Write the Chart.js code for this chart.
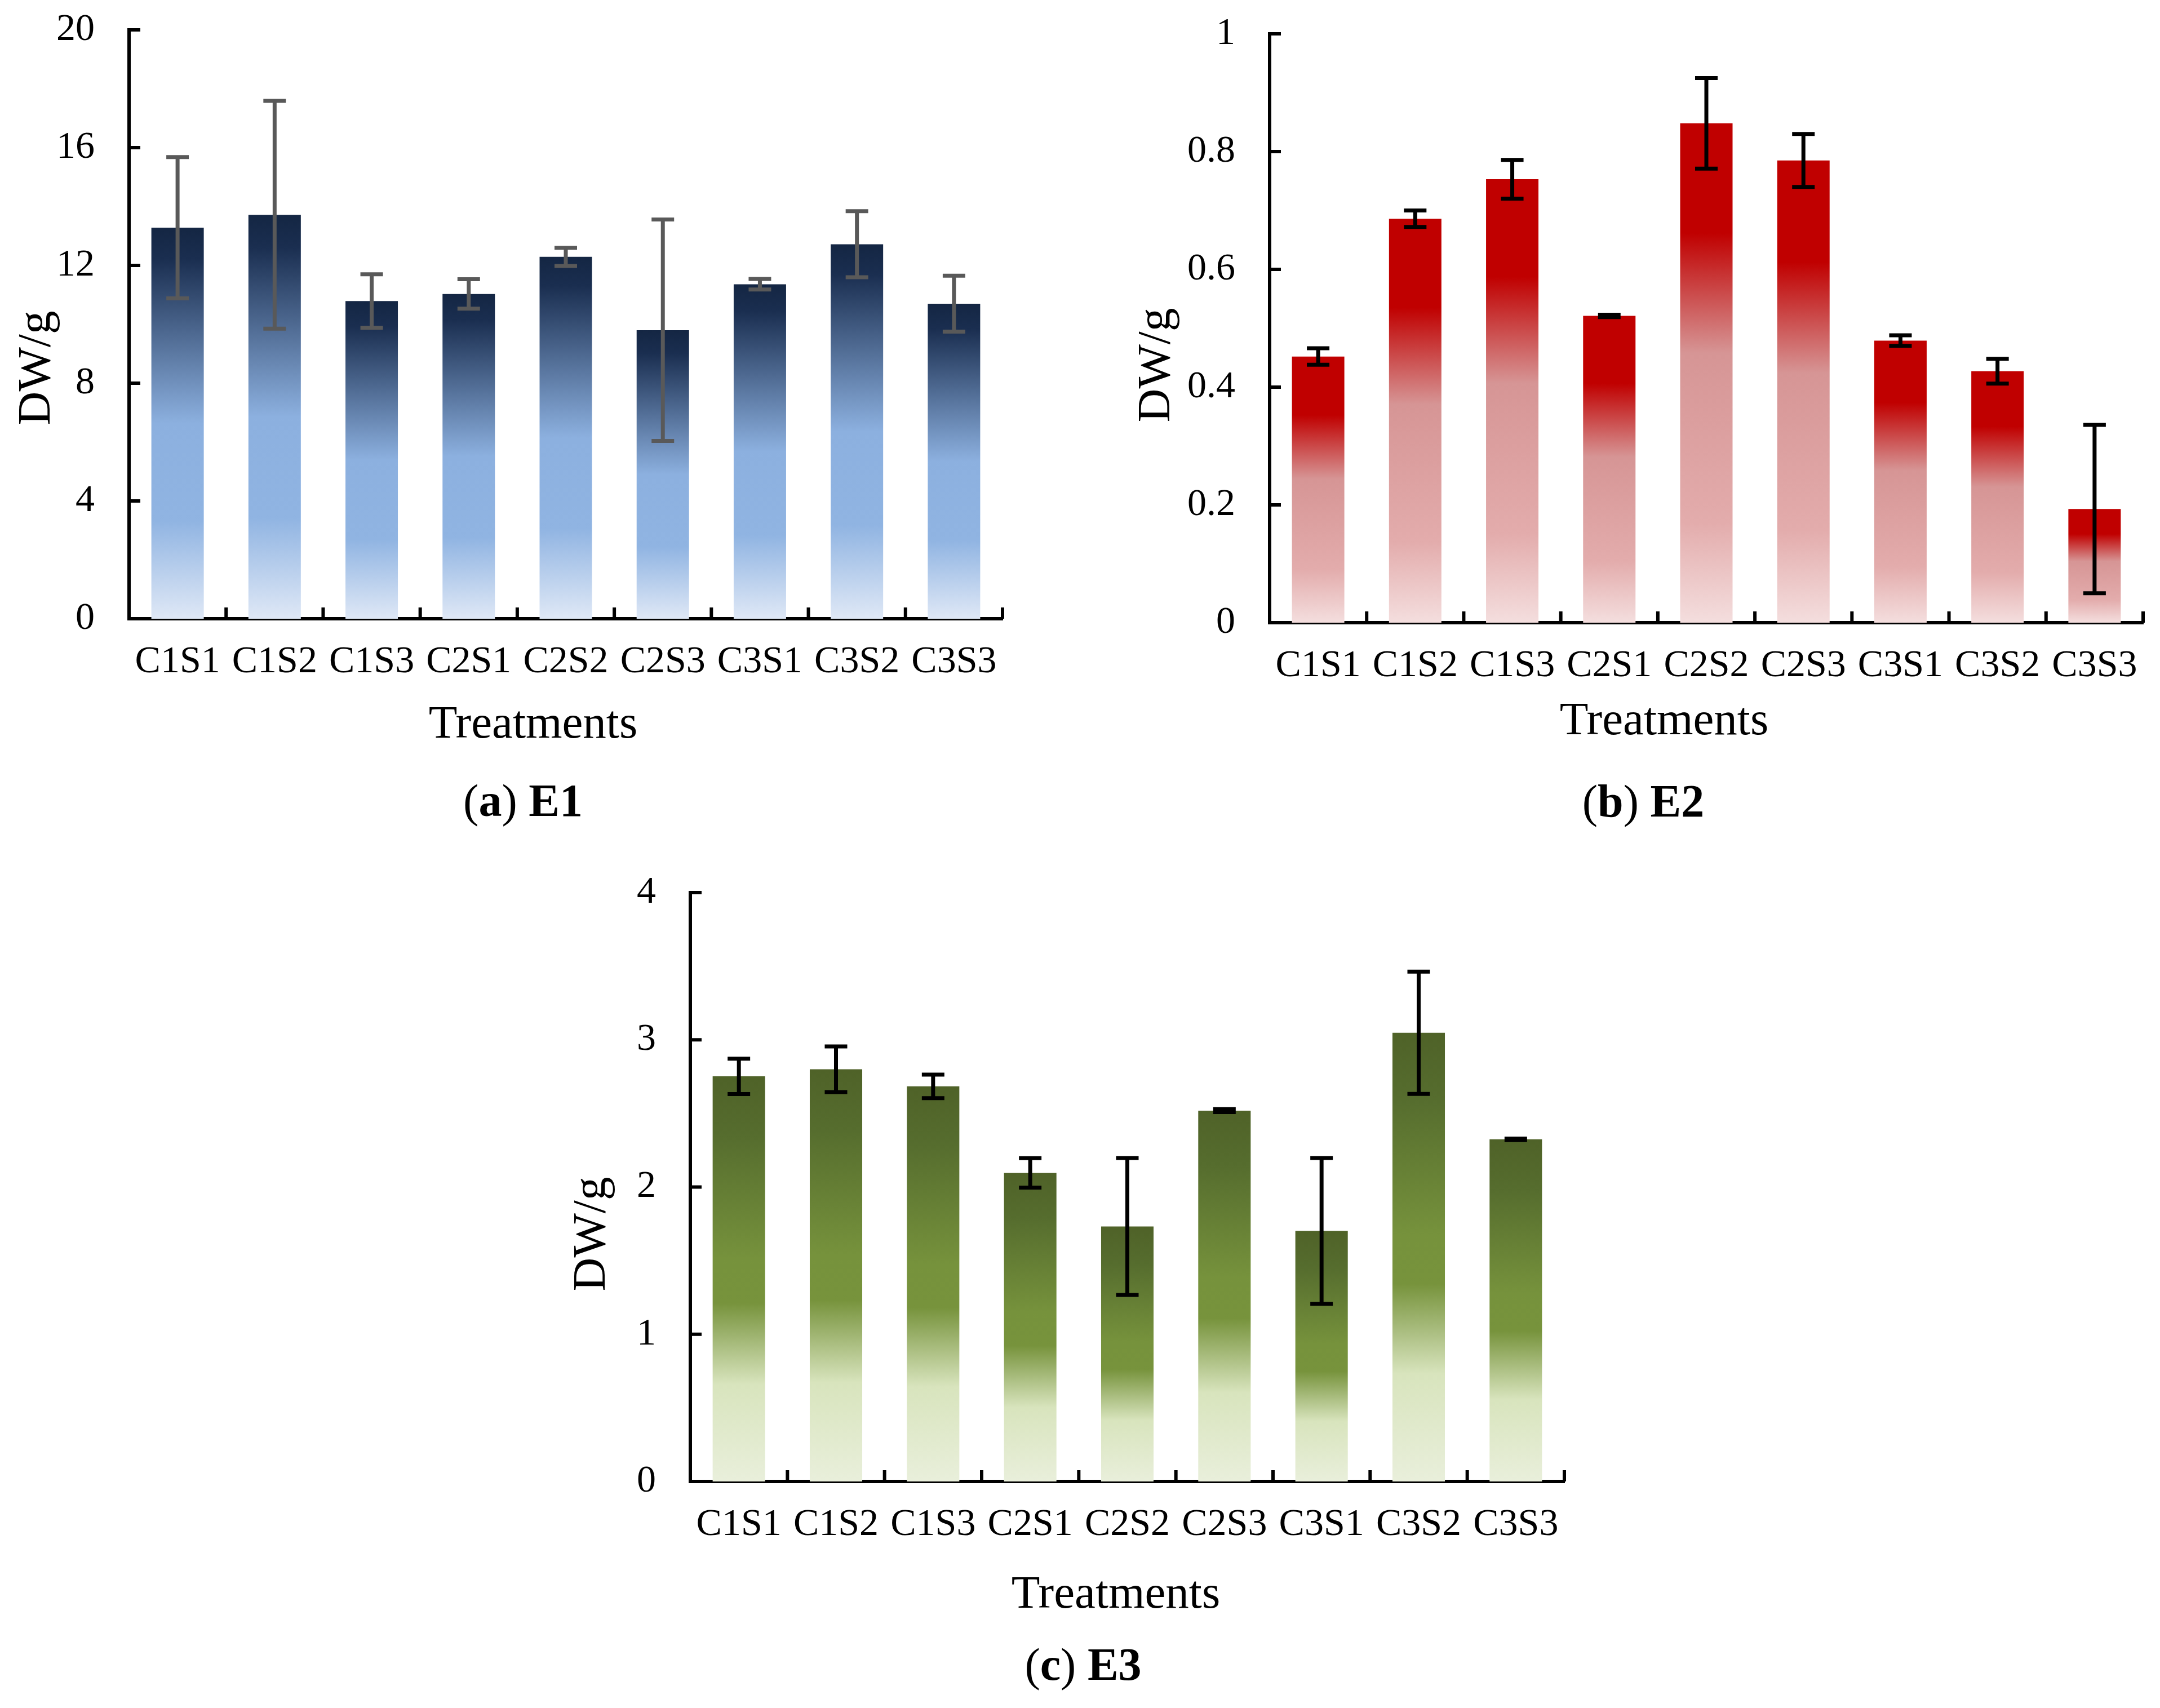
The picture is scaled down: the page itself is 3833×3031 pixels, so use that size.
<!DOCTYPE html>
<html>
<head>
<meta charset="utf-8">
<title>DW/g by treatment, E1 to E3</title>
<script src="https://cdn.jsdelivr.net/npm/chart.js@4.4.1/dist/chart.umd.min.js"></script>
<style>
  html, body { margin: 0; padding: 0; background: #fff; }
  #page { position: relative; width: 3833px; height: 3031px; overflow: hidden; }
  #page canvas { position: absolute; }
  #chart_e1 { left: 0; top: 0; width: 1900px; height: 1500px; }
  #chart_e2 { left: 1900px; top: 0; width: 1933px; height: 1500px; }
  #chart_e3 { left: 950px; top: 1500px; width: 1900px; height: 1531px; }
</style>
</head>
<body>
<div id="page">
  <canvas id="chart_e1" width="1900" height="1500"></canvas>
  <canvas id="chart_e2" width="1933" height="1500"></canvas>
  <canvas id="chart_e3" width="1900" height="1531"></canvas>
</div>
<script>
// data
const treatments = ["C1S1", "C1S2", "C1S3", "C2S1", "C2S2", "C2S3", "C3S1", "C3S2", "C3S3"];

const e1Values = [13.28, 13.72, 10.79, 11.03, 12.29, 9.8, 11.36, 12.72, 10.7];
const e1Errors = [2.4, 3.87, 0.91, 0.5, 0.31, 3.76, 0.18, 1.12, 0.95];
const e1Ticks = ["0", "4", "8", "12", "16", "20"];

const e2Values = [0.452, 0.686, 0.753, 0.521, 0.848, 0.785, 0.479, 0.427, 0.193];
const e2Errors = [0.014, 0.014, 0.033, 0.002, 0.077, 0.045, 0.009, 0.021, 0.143];
const e2Ticks = ["0", "0.2", "0.4", "0.6", "0.8", "1"];

const e3Values = [2.752, 2.8, 2.684, 2.096, 1.732, 2.519, 1.702, 3.048, 2.324];
const e3Errors = [0.12, 0.155, 0.08, 0.1, 0.465, 0.01, 0.495, 0.415, 0.005];
const e3Ticks = ["0", "1", "2", "3", "4"];

const yTitle = "DW/g";
const xTitle = "Treatments";

const Y_AXIS_W = 200;
const X_AXIS_H = 150;
const FONT = "'Liberation Serif', 'Times New Roman', serif";

// gradient along each bar, from its top (0) to the base (1)
function barGradient(stops) {
  return function (context) {
    const chart = context.chart;
    if (!chart.chartArea || context.type !== "data") {
      return stops[0][1];
    }
    const y = chart.scales.y;
    const top = y.getPixelForValue(context.raw);
    const base = y.getPixelForValue(0);
    if (!isFinite(top) || base - top < 1) {
      return stops[0][1];
    }
    const g = chart.ctx.createLinearGradient(0, top, 0, base);
    stops.forEach(function (s) {
      g.addColorStop(s[0], s[1]);
    });
    return g;
  };
}

const errorBars = {
  id: "errorBars",
  afterDatasetsDraw(chart, args, opts) {
    const meta = chart.getDatasetMeta(0);
    const y = chart.scales.y;
    const values = chart.data.datasets[0].data;
    const ctx = chart.ctx;
    ctx.save();
    ctx.strokeStyle = opts.color;
    ctx.lineWidth = opts.width;
    opts.errors.forEach(function (err, i) {
      const bx = meta.data[i].x;
      const hi = y.getPixelForValue(values[i] + err);
      const lo = y.getPixelForValue(values[i] - err);
      ctx.beginPath();
      ctx.moveTo(bx, hi);
      ctx.lineTo(bx, lo);
      ctx.moveTo(bx - opts.cap, hi);
      ctx.lineTo(bx + opts.cap, hi);
      ctx.moveTo(bx - opts.cap, lo);
      ctx.lineTo(bx + opts.cap, lo);
      ctx.stroke();
    });
    ctx.restore();
  },
};

// tick marks pointing into the plot
const innerTicks = {
  id: "innerTicks",
  afterDraw(chart) {
    const ctx = chart.ctx;
    const area = chart.chartArea;
    const x = chart.scales.x;
    const y = chart.scales.y;
    const len = 20;
    ctx.save();
    ctx.strokeStyle = "#000";
    ctx.lineWidth = 6;
    ctx.beginPath();
    y.ticks.forEach(function (t) {
      if (t.value === 0) return;
      const py = y.getPixelForValue(t.value);
      ctx.moveTo(area.left, py);
      ctx.lineTo(area.left + len, py);
    });
    const step = x.getPixelForTick(1) - x.getPixelForTick(0);
    for (let i = 0; i < x.ticks.length; i++) {
      const px = x.getPixelForTick(i) + step / 2;
      ctx.moveTo(px, area.bottom);
      ctx.lineTo(px, area.bottom - len);
    }
    ctx.stroke();
    ctx.restore();
  },
};

const panelText = {
  id: "panelText",
  afterDraw(chart, args, opts) {
    const ctx = chart.ctx;
    ctx.save();
    ctx.fillStyle = "#000";
    ctx.textBaseline = "middle";
    ctx.textAlign = "center";
    ctx.font = "83px " + FONT;
    ctx.fillText(xTitle, opts.xTitleAt[0], opts.xTitleAt[1]);

    ctx.save();
    ctx.translate(opts.yTitleAt[0], opts.yTitleAt[1]);
    ctx.rotate(-Math.PI / 2);
    ctx.fillText(yTitle, 0, 0);
    ctx.restore();

    // caption like "(a) E1": letter and name bold, brackets plain
    const parts = [
      ["(", "normal"],
      [opts.letter, "bold"],
      [") ", "normal"],
      [opts.name, "bold"],
    ];
    let total = 0;
    parts.forEach(function (p) {
      ctx.font = p[1] + " 82px " + FONT;
      total += ctx.measureText(p[0]).width;
    });
    let cx = opts.captionAt[0] - total / 2;
    ctx.textAlign = "left";
    parts.forEach(function (p) {
      ctx.font = p[1] + " 82px " + FONT;
      ctx.fillText(p[0], cx, opts.captionAt[1]);
      cx += ctx.measureText(p[0]).width;
    });
    ctx.restore();
  },
};

// area is the plot rectangle inside the canvas
function padFor(canvas, area) {
  return {
    left: area.left - Y_AXIS_W,
    top: area.top,
    right: canvas.width - area.right,
    bottom: canvas.height - area.bottom - X_AXIS_H,
  };
}

function makeChart(id, cfg) {
  const canvas = document.getElementById(id);
  return new Chart(canvas, {
    type: "bar",
    data: {
      labels: treatments,
      datasets: [
        {
          data: cfg.values,
          backgroundColor: barGradient(cfg.stops),
          borderWidth: 0,
          barPercentage: 0.54,
          categoryPercentage: 1,
        },
      ],
    },
    options: {
      responsive: false,
      animation: false,
      devicePixelRatio: 1,
      layout: { padding: padFor(canvas, cfg.area) },
      plugins: {
        legend: { display: false },
        tooltip: { enabled: false },
        errorBars: { errors: cfg.errors, color: cfg.errorColor, width: 7, cap: 20 },
        panelText: cfg.text,
      },
      scales: {
        x: {
          offset: true,
          grid: { display: false, drawTicks: false },
          border: { display: true, color: "#000", width: 6 },
          ticks: {
            color: "#000",
            font: { family: FONT, size: 68 },
            padding: 36,
            maxRotation: 0,
            autoSkip: false,
          },
          afterFit: function (scale) {
            scale.height = X_AXIS_H;
          },
        },
        y: {
          min: 0,
          max: cfg.max,
          grid: { display: false, drawTicks: false },
          border: { display: true, color: "#000", width: 6 },
          ticks: {
            stepSize: cfg.step,
            color: "#000",
            font: { family: FONT, size: 68 },
            padding: 61,
            callback: function (value, index) {
              return cfg.ticks[index];
            },
          },
          afterFit: function (scale) {
            // the tick padding is horizontal here, keep it out of the top/bottom margins
            scale.width = Y_AXIS_W;
            scale.paddingTop = 0;
            scale.paddingBottom = 0;
          },
        },
      },
    },
    plugins: [errorBars, innerTicks, panelText],
  });
}

// positions below are canvas pixels; canvas e2 starts at x=1900, e3 at (950, 1500)
function getE1chart() {
  makeChart("chart_e1", {
    values: e1Values,
    errors: e1Errors,
    ticks: e1Ticks,
    max: 20,
    step: 4,
    errorColor: "#595959",
    stops: [
      [0, "#142643"],
      [0.08, "#1a2e50"],
      [0.5, "#8cb0df"],
      [0.75, "#90b4e2"],
      [1, "#dfe8f6"],
    ],
    area: { left: 229, top: 53, right: 1779, bottom: 1098 },
    text: {
      yTitleAt: [66, 653],
      xTitleAt: [946, 1287],
      captionAt: [928, 1427],
      letter: "a",
      name: "E1",
    },
  });
}

function getE2chart() {
  makeChart("chart_e2", {
    values: e2Values,
    errors: e2Errors,
    ticks: e2Ticks,
    max: 1,
    step: 0.2,
    errorColor: "#000000",
    stops: [
      [0, "#c00000"],
      [0.22, "#c00000"],
      [0.46, "#d69595"],
      [0.8, "#e3acac"],
      [1, "#f4dede"],
    ],
    area: { left: 353, top: 60, right: 1903, bottom: 1105 },
    text: {
      yTitleAt: [153, 648],
      xTitleAt: [1053, 1281],
      captionAt: [1016, 1428],
      letter: "b",
      name: "E2",
    },
  });
}

function getE3chart() {
  makeChart("chart_e3", {
    values: e3Values,
    errors: e3Errors,
    ticks: e3Ticks,
    max: 4,
    step: 1,
    errorColor: "#000000",
    stops: [
      [0, "#4f6228"],
      [0.15, "#566d2e"],
      [0.45, "#76923c"],
      [0.56, "#77933c"],
      [0.76, "#d8e4bd"],
      [1, "#e9efdb"],
    ],
    area: { left: 275, top: 84, right: 1826, bottom: 1129 },
    text: {
      yTitleAt: [101, 690],
      xTitleAt: [1030, 1331],
      captionAt: [972, 1460],
      letter: "c",
      name: "E3",
    },
  });
}

getE1chart();
getE2chart();
getE3chart();
</script>
</body>
</html>
